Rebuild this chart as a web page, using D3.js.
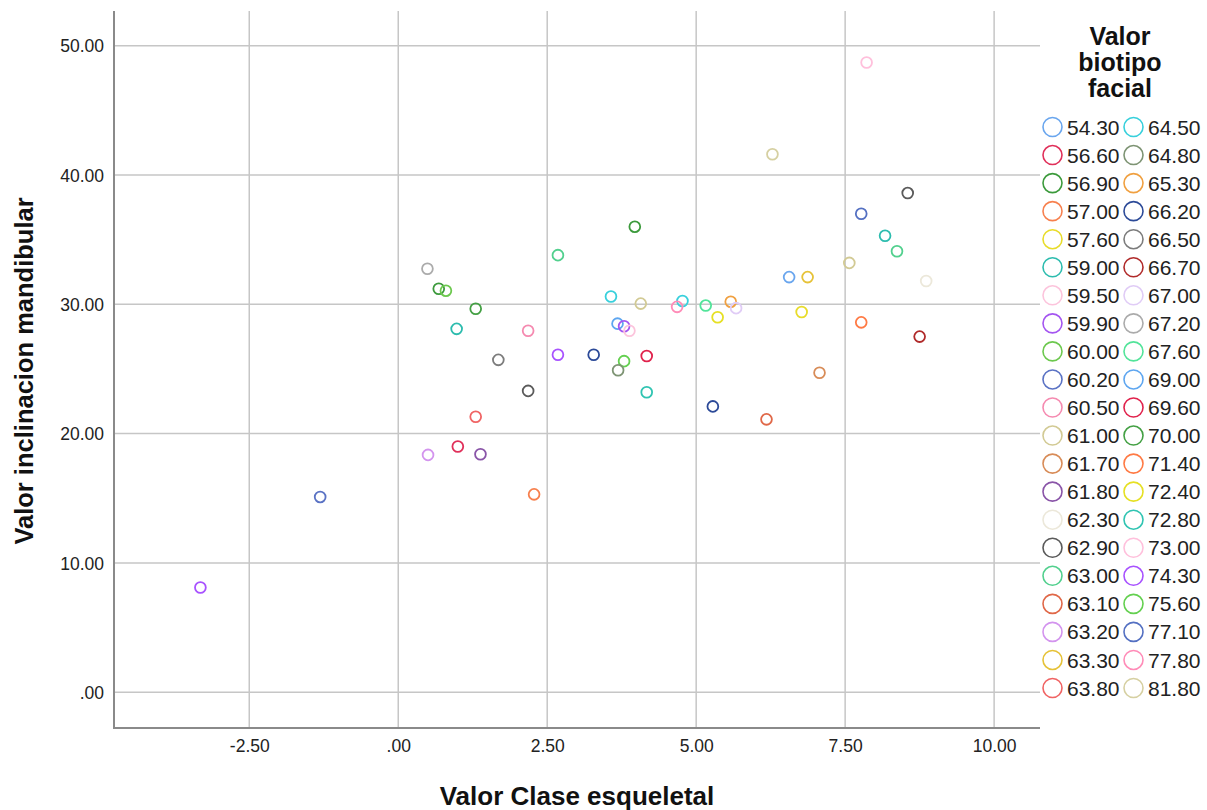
<!DOCTYPE html>
<html>
<head>
<meta charset="utf-8">
<script src="https://cdn.jsdelivr.net/npm/d3@7"></script>
<style>
  html, body { margin: 0; padding: 0; background: #fff; }
  svg { display: block; font-family: "Liberation Sans", Arial, sans-serif; }
</style>
</head>
<body>
<svg id="chart" width="1207" height="810"></svg>
<script>
// Legend categories (Valor biotipo facial) and their colours
const biotipoLevels = [
  "54.30","56.60","56.90","57.00","57.60","59.00","59.50","59.90","60.00","60.20","60.50",
  "61.00","61.70","61.80","62.30","62.90","63.00","63.10","63.20","63.30","63.80",
  "64.50","64.80","65.30","66.20","66.50","66.70","67.00","67.20","67.60","69.00","69.60",
  "70.00","71.40","72.40","72.80","73.00","74.30","75.60","77.10","77.80","81.80"
];
const biotipoColors = [
  "#6aa6ee","#e0305a","#3c9a3c","#f7804e","#e8dc2a","#2cbcae","#fcc4dc","#a455f0","#6cc84e","#5a72c4","#f58ab0",
  "#d2ca94","#d88c58","#8a55a8","#ece8da","#5a5a5a","#52d08e","#e06848","#d394ee","#e6c238","#f06464",
  "#38d0dc","#7e9474","#f0a040","#2c4a98","#7c7c7c","#b02a2a","#e0ccf6","#ababab","#52e49a","#5ea6f0","#e0224c",
  "#44a044","#ff7a44","#e6e024","#30c4b2","#ffc0dc","#a852ff","#64d050","#5470c2","#ff8cb8","#d6d0a2"
];

// Observations
const claseEsqueletal = [
  -3.32, -1.31, 0.49, 0.68, 0.80, 1.30, 0.98, 2.18, 1.68, 2.18,
  1.30, 1.00, 0.50, 1.38, 2.28, 2.68, 3.97, 3.57, 4.07, 4.77,
  4.68, 5.16, 5.36, 3.68, 3.79, 3.88, 2.68, 3.28, 4.17, 3.79,
  3.69, 4.17, 5.28, 7.86, 6.28, 8.55, 7.77, 8.17, 8.37, 7.57,
  6.56, 6.87, 8.86, 5.58, 5.67, 6.77, 7.77, 8.75, 7.07, 6.18
];
const inclinacionMandibular = [
  8.10, 15.10, 32.75, 31.20, 31.05, 29.65, 28.10, 27.95, 25.70, 23.30,
  21.30, 19.00, 18.35, 18.40, 15.30, 33.80, 36.00, 30.60, 30.05, 30.25,
  29.80, 29.90, 29.00, 28.50, 28.30, 27.95, 26.10, 26.10, 26.00, 25.60,
  24.90, 23.20, 22.10, 48.70, 41.60, 38.60, 37.00, 35.30, 34.10, 33.20,
  32.10, 32.10, 31.80, 30.20, 29.70, 29.40, 28.60, 27.50, 24.70, 21.10
];
const biotipoFacial = [
  "74.30","60.20","67.20","56.90","60.00","70.00","59.00","60.50","66.50","62.90",
  "63.80","56.60","63.20","61.80","57.00","63.00","56.90","64.50","61.00","64.50",
  "77.80","67.60","72.40","69.00","59.90","59.50","74.30","66.20","69.60","75.60",
  "64.80","72.80","66.20","73.00","81.80","62.90","77.10","59.00","63.00","61.00",
  "54.30","63.30","62.30","65.30","67.00","57.60","71.40","66.70","61.70","63.10"
];

const xTicks = [-2.5, 0, 2.5, 5, 7.5, 10];
const yTicks = [0, 10, 20, 30, 40, 50];

const points = claseEsqueletal.map((x, i) => ({
  x, y: inclinacionMandibular[i], g: biotipoFacial[i]
}));

const svg = d3.select("#chart");
const plot = { left: 114, right: 1040, top: 11, bottom: 728 };

const x = d3.scaleLinear().domain([-4.77, 10.77]).range([plot.left, plot.right]);
const y = d3.scaleLinear().domain([-2.77, 52.68]).range([plot.bottom, plot.top]);
const color = d3.scaleOrdinal().domain(biotipoLevels).range(biotipoColors);

// number format: ".00", "-2.50", "50.00" (plain hyphen, no leading zero)
const fmt = v => {
  const s = v.toFixed(2);
  return s.replace(/^(-?)0\./, "$1.");
};

// Grid lines
const grid = svg.append("g").attr("stroke", "#c6c6c6").attr("stroke-width", 1.5);
grid.selectAll("line.gx").data(xTicks).join("line")
  .attr("x1", d => x(d)).attr("x2", d => x(d))
  .attr("y1", plot.top).attr("y2", plot.bottom);
grid.selectAll("line.gy").data(yTicks).join("line")
  .attr("x1", plot.left).attr("x2", plot.right)
  .attr("y1", d => y(d)).attr("y2", d => y(d));

// Axes (no tick marks, labels only)
const xAxis = d3.axisBottom(x).tickValues(xTicks).tickFormat(fmt).tickSize(0).tickPadding(12);
const yAxis = d3.axisLeft(y).tickValues(yTicks).tickFormat(fmt).tickSize(0).tickPadding(10);

const gx = svg.append("g").attr("transform", `translate(0,${plot.bottom})`).call(xAxis);
const gy = svg.append("g").attr("transform", `translate(${plot.left},0)`).call(yAxis);
[gx, gy].forEach(g => {
  g.select(".domain").remove();
  g.selectAll("text").attr("font-size", 17.5).attr("fill", "#222")
    .attr("font-family", "'Liberation Sans', Arial, sans-serif");
});
gy.selectAll("text").attr("dy", "0.36em");

svg.append("line").attr("x1", plot.left).attr("x2", plot.left)
  .attr("y1", plot.top).attr("y2", plot.bottom + 1)
  .attr("stroke", "#8a8a8a").attr("stroke-width", 2);
svg.append("line").attr("x1", plot.left - 1).attr("x2", plot.right)
  .attr("y1", plot.bottom).attr("y2", plot.bottom)
  .attr("stroke", "#8a8a8a").attr("stroke-width", 2);

// Points
svg.append("g").selectAll("circle").data(points).join("circle")
  .attr("cx", d => x(d.x)).attr("cy", d => y(d.y)).attr("r", 5.4)
  .attr("fill", "none").attr("stroke", d => color(d.g)).attr("stroke-width", 1.8);

// Axis titles
svg.append("text").attr("x", 577).attr("y", 805).attr("text-anchor", "middle")
  .attr("font-size", 26).attr("font-weight", "bold").attr("fill", "#111")
  .text("Valor Clase esqueletal");
svg.append("text").attr("transform", "translate(33,371) rotate(-90)").attr("text-anchor", "middle")
  .attr("font-size", 25.5).attr("font-weight", "bold").attr("fill", "#111")
  .text("Valor inclinacion mandibular");

// Legend
const legend = svg.append("g");
const titleLines = ["Valor", "biotipo", "facial"];
legend.selectAll("text.title").data(titleLines).join("text")
  .attr("x", 1120).attr("y", (d, i) => 45 + i * 26)
  .attr("text-anchor", "middle").attr("font-size", 25).attr("font-weight", "bold").attr("fill", "#111")
  .text(d => d);

const perCol = 21, rowH = 28.05, row0 = 127;
const colCircle = [1052.5, 1133.5];
const items = legend.selectAll("g.item").data(biotipoLevels).join("g")
  .attr("transform", (d, i) => `translate(${colCircle[Math.floor(i / perCol)]},${row0 + (i % perCol) * rowH})`);
items.append("circle").attr("r", 9.5).attr("fill", "none")
  .attr("stroke", d => color(d)).attr("stroke-width", 1.6);
items.append("text").attr("x", 14.5).attr("dy", "0.36em")
  .attr("font-size", 21).attr("fill", "#222").text(d => d);
</script>
</body>
</html>
